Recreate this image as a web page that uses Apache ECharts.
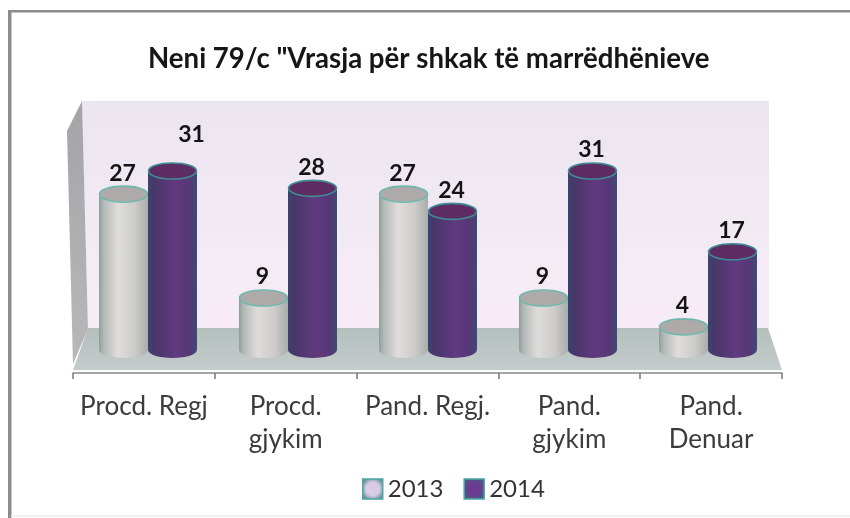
<!DOCTYPE html>
<html>
<head>
<meta charset="utf-8">
<style>html,body{margin:0;padding:0;background:#fff}#c{width:850px;height:518px}</style>
<script src="https://cdn.jsdelivr.net/npm/echarts@6/dist/echarts.min.js"></script>
</head>
<body>
<div id="c"></div>
<script>
var titleText = 'Neni 79/c "Vrasja për shkak të marrëdhënieve';
var categories = ['Procd. Regj', 'Procd.\ngjykim', 'Pand. Regj.', 'Pand.\ngjykim', 'Pand.\nDenuar'];
var years = ['2013', '2014'];
var values2013 = [27, 9, 27, 9, 4];
var values2014 = [31, 28, 24, 31, 17];

var BAR_RATIO = 0.35, RY = 8;

function lin(stops) {
  return new echarts.graphic.LinearGradient(0, 0, 1, 0, stops.map(function (s) { return { offset: s[0], color: s[1] }; }));
}
function vert(stops) {
  return new echarts.graphic.LinearGradient(0, 0, 0, 1, stops.map(function (s) { return { offset: s[0], color: s[1] }; }));
}
var skins = [
  {
    body: [[0, '#8f9e9b'], [0.1, '#b4bab8'], [0.38, '#dfdddb'], [0.72, '#cfcdcb'], [1, '#a8adab']],
    top: '#aeaaaa', stroke: '#6fb8ad', legendIn: '#d8cbe6', legendOut: '#47807f', legendBorder: '#4aa7a3'
  },
  {
    body: [[0, '#3a4470'], [0.12, '#483769'], [0.55, '#61397f'], [0.86, '#553776'], [1, '#3c4c74']],
    top: '#5c2c63', stroke: '#3f8d96', legendIn: '#6b3c92', legendOut: '#3a6a7e', legendBorder: '#4aa7a3'
  }
];

function cylinder(seriesIdx) {
  return function (params, api) {
    var v = api.value(1);
    var idx = api.value(0);
    var top = api.coord([idx, v]);
    var base = api.coord([idx, 0]);
    var band = api.size([1, 0])[0];
    var w = band * BAR_RATIO;
    var cx = top[0] + (seriesIdx === 0 ? -w / 2 : w / 2);
    var rx = w / 2;
    var skin = skins[seriesIdx];
    var grad = lin(skin.body);
    // the one label in the picture that was dragged away from its bar
    var moved = (seriesIdx === 1 && idx === 0);
    return {
      type: 'group',
      children: [
        { type: 'ellipse', shape: { cx: cx, cy: base[1], rx: rx, ry: RY }, style: { fill: grad } },
        { type: 'rect', shape: { x: cx - rx, y: top[1], width: w, height: base[1] - top[1] }, style: { fill: grad } },
        { type: 'ellipse', shape: { cx: cx, cy: top[1], rx: rx - 0.5, ry: RY }, style: { fill: skin.top, stroke: skin.stroke, lineWidth: 1.6 } },
        {
          type: 'text',
          style: {
            x: cx + (moved ? 19 : -1), y: top[1] - (moved ? 36 : 21),
            text: String(v), align: 'center', verticalAlign: 'middle',
            font: 'bold 23px Lato', fill: '#141414'
          }
        }
      ]
    };
  };
}

function seriesFor(i, vals) {
  return {
    name: years[i], type: 'custom', xAxisIndex: 1, yAxisIndex: 1, z: 3 + i,
    renderItem: cylinder(i),
    encode: { x: 0, y: 1 },
    data: vals.map(function (v, k) { return [k, v]; }),
    itemStyle: { color: skins[i].legendIn }
  };
}
function legendItem(i) {
  return {
    name: years[i], icon: 'rect',
    itemStyle: {
      color: new echarts.graphic.RadialGradient(0.5, 0.5, 0.62, [
        { offset: 0, color: skins[i].legendIn }, { offset: 0.5, color: skins[i].legendIn }, { offset: 1, color: skins[i].legendOut }
      ]),
      borderColor: skins[i].legendBorder, borderWidth: 1.5
    }
  };
}

var chart = echarts.init(document.getElementById('c'), null, { renderer: 'canvas' });
chart.setOption({
  animation: false,
  backgroundColor: '#ffffff',
  title: {
    text: titleText, left: 143, top: 40,
    textStyle: { fontFamily: 'Lato', fontSize: 27.6, fontWeight: 'bold', color: '#161616' }
  },
  legend: {
    left: 357, top: 472, itemWidth: 20, itemHeight: 20, itemGap: 20,
    textStyle: { fontFamily: 'Lato', fontSize: 24, color: '#333333' },
    data: [legendItem(0), legendItem(1)]
  },
  grid: [
    { left: 73, width: 709, top: 96, height: 277 },
    { left: 78, width: 700, top: 96, height: 277 }
  ],
  xAxis: [
    {
      type: 'category', gridIndex: 0, data: categories,
      axisLine: { onZero: false, lineStyle: { color: '#8a8a8a', width: 1.5 } },
      axisTick: { show: true, length: 6, lineStyle: { color: '#7a7a7a', width: 1.5 } },
      axisLabel: { interval: 0, margin: 17, fontFamily: 'Lato', fontSize: 26, lineHeight: 33, color: '#3c3c3c' }
    },
    { type: 'category', gridIndex: 1, data: categories, show: false }
  ],
  yAxis: [
    { type: 'value', gridIndex: 0, min: -4, max: 44, show: false },
    { type: 'value', gridIndex: 1, min: -4, max: 44, show: false }
  ],
  series: [seriesFor(0, values2013), seriesFor(1, values2014)],
  graphic: [
    { type: 'rect', silent: true, z: 0, shape: { x: 8, y: 10, width: 842, height: 2.5 }, style: { fill: '#8c8c8c' } },
    { type: 'rect', silent: true, z: 0, shape: { x: 8, y: 10, width: 3.5, height: 508 }, style: { fill: '#8c8c8c' } },
    { type: 'rect', silent: true, z: 0, shape: { x: 11, y: 515, width: 839, height: 2 }, style: { fill: '#efefef' } },
    { type: 'polygon', silent: true, z: 0, shape: { points: [[82, 101], [769, 101], [769, 329], [88, 329]] },
      style: { fill: vert([[0, '#ebe5f0'], [0.55, '#f2eaf3'], [1, '#f7ecf5']]) } },
    { type: 'polygon', silent: true, z: 0, shape: { points: [[67, 131], [82, 101], [88, 329], [73, 364]] },
      style: { fill: vert([[0, '#a4a4a8'], [1, '#b8b8ba']]) } },
    { type: 'polygon', silent: true, z: 1, shape: { points: [[88, 328], [768, 328], [782, 370], [73, 370]] },
      style: { fill: vert([[0, '#b4bfbc'], [1, '#c4cccb']]) } }
  ]
});
</script>
</body>
</html>
